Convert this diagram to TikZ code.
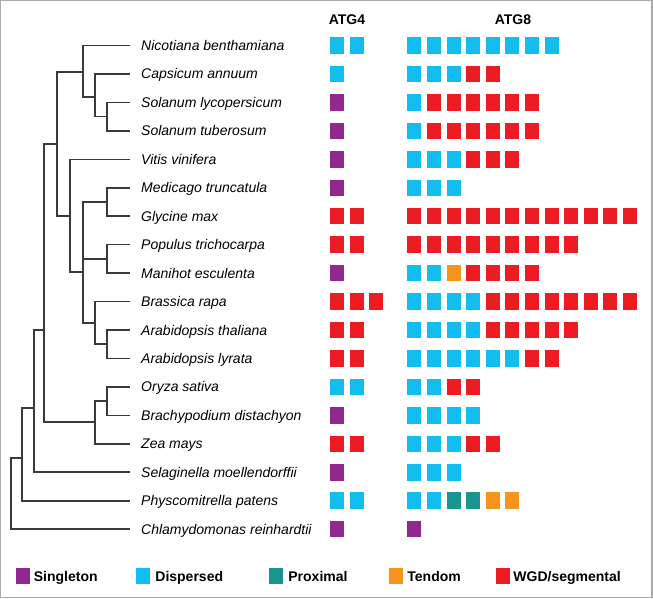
\documentclass[tikz,border=0pt]{standalone}
\usepackage{fontspec}
\setmainfont{Liberation Sans}
\usetikzlibrary{positioning}

\definecolor{cS}{HTML}{92278F}
\definecolor{cD}{HTML}{12BDF0}
\definecolor{cP}{HTML}{1A948F}
\definecolor{cT}{HTML}{F7941D}
\definecolor{cW}{HTML}{EC1C24}
\definecolor{branchgray}{HTML}{3A3A3A}
\definecolor{framegray}{HTML}{ABABAB}

% one row of gene boxes: name, first x, row y, list of kinds
\newcommand{\generow}[4]{%
  \foreach \kind [count=\i] in {#4} {\node[gene, fill=c\kind] (#1-\i) at ({#2+19.6*(\i-1)}, #3) {};}}

\begin{document}
\begin{tikzpicture}[
    x=1pt, y=-1pt,
    species/.style={anchor=west, inner xsep=11pt, inner ysep=0pt, text height=10pt, text depth=0pt, font=\fontsize{14}{16}\selectfont\itshape},
    branch/.style={draw=branchgray, line width=1.6pt},
    gene/.style={rectangle, minimum width=14pt, minimum height=16.5pt, inner sep=0pt},
    header/.style={inner sep=0pt, text height=10pt, text depth=0pt, font=\fontsize{14}{16}\selectfont\bfseries},
    legend/.style={anchor=west, inner sep=0pt, text height=10pt, text depth=0pt, font=\fontsize{14}{16}\selectfont\bfseries}
]
\useasboundingbox (0,0) rectangle (653,598);
\draw[framegray, line width=1.4pt] (0.7,0.7) rectangle (652,597.2);

% Species
\node[species] (nic) at (130, 45.5) {Nicotiana benthamiana};
\node[species] (cap) at (130, 73.95) {Capsicum annuum};
\node[species] (sly) at (130, 102.4) {Solanum lycopersicum};
\node[species] (stu) at (130, 130.85) {Solanum tuberosum};
\node[species] (vvi) at (130, 159.3) {Vitis vinifera};
\node[species] (mtr) at (130, 187.75) {Medicago truncatula};
\node[species] (gma) at (130, 216.2) {Glycine max};
\node[species] (ptr) at (130, 244.65) {Populus trichocarpa};
\node[species] (mes) at (130, 273.1) {Manihot esculenta};
\node[species] (bra) at (130, 301.55) {Brassica rapa};
\node[species] (ath) at (130, 330) {Arabidopsis thaliana};
\node[species] (aly) at (130, 358.45) {Arabidopsis lyrata};
\node[species] (osa) at (130, 386.9) {Oryza sativa};
\node[species] (bdi) at (130, 415.35) {Brachypodium distachyon};
\node[species] (zma) at (130, 443.8) {Zea mays};
\node[species] (smo) at (130, 472.25) {Selaginella moellendorffii};
\node[species] (ppa) at (130, 500.7) {Physcomitrella patens};
\node[species] (cre) at (130, 529.15) {Chlamydomonas reinhardtii};

% Tree nodes
\coordinate (root) at (11, 493.6);
\coordinate (land) at (22, 458);
\coordinate (vasc) at (34, 408);
\coordinate (angio) at (44, 330);
\coordinate (eudi) at (57, 144);
\coordinate (solan) at (83, 72);
\coordinate (capsi) at (95, 97);
\coordinate (solum) at (107, 116.6);
\coordinate (rosid) at (70, 216);
\coordinate (core) at (83, 272);
\coordinate (fab) at (107, 202);
\coordinate (mal) at (107, 258.9);
\coordinate (brass) at (95, 323);
\coordinate (arab) at (107, 344.2);
\coordinate (mono) at (95, 422);
\coordinate (pooid) at (107, 401.1);

% Branches
\draw[branch] (root) |- (land);
\draw[branch] (root) |- (cre.west);
\draw[branch] (land) |- (vasc);
\draw[branch] (land) |- (ppa.west);
\draw[branch] (vasc) |- (angio);
\draw[branch] (vasc) |- (smo.west);
\draw[branch] (angio) |- (eudi);
\draw[branch] (angio) |- (mono);
\draw[branch] (eudi) |- (solan);
\draw[branch] (eudi) |- (rosid);
\draw[branch] (solan) |- (nic.west);
\draw[branch] (solan) |- (capsi);
\draw[branch] (capsi) |- (cap.west);
\draw[branch] (capsi) |- (solum);
\draw[branch] (solum) |- (sly.west);
\draw[branch] (solum) |- (stu.west);
\draw[branch] (rosid) |- (vvi.west);
\draw[branch] (rosid) |- (core);
\draw[branch] (core) |- (fab);
\draw[branch] (core) |- (mal);
\draw[branch] (core) |- (brass);
\draw[branch] (fab) |- (mtr.west);
\draw[branch] (fab) |- (gma.west);
\draw[branch] (mal) |- (ptr.west);
\draw[branch] (mal) |- (mes.west);
\draw[branch] (brass) |- (bra.west);
\draw[branch] (brass) |- (arab);
\draw[branch] (arab) |- (ath.west);
\draw[branch] (arab) |- (aly.west);
\draw[branch] (mono) |- (pooid);
\draw[branch] (mono) |- (zma.west);
\draw[branch] (pooid) |- (osa.west);
\draw[branch] (pooid) |- (bdi.west);

% Headers
\node[header] (h4) at (347, 19.5) {ATG4};
\node[header] (h8) at (513, 19.5) {ATG8};

% Gene counts (ATG4, ATG8)
\generow{nic4}{337}{45.5}{D,D}
\generow{nic8}{414.3}{45.5}{D,D,D,D,D,D,D,D}
\generow{cap4}{337}{73.95}{D}
\generow{cap8}{414.3}{73.95}{D,D,D,W,W}
\generow{sly4}{337}{102.4}{S}
\generow{sly8}{414.3}{102.4}{D,W,W,W,W,W,W}
\generow{stu4}{337}{130.85}{S}
\generow{stu8}{414.3}{130.85}{D,W,W,W,W,W,W}
\generow{vvi4}{337}{159.3}{S}
\generow{vvi8}{414.3}{159.3}{D,D,D,W,W,W}
\generow{mtr4}{337}{187.75}{S}
\generow{mtr8}{414.3}{187.75}{D,D,D}
\generow{gma4}{337}{216.2}{W,W}
\generow{gma8}{414.3}{216.2}{W,W,W,W,W,W,W,W,W,W,W,W}
\generow{ptr4}{337}{244.65}{W,W}
\generow{ptr8}{414.3}{244.65}{W,W,W,W,W,W,W,W,W}
\generow{mes4}{337}{273.1}{S}
\generow{mes8}{414.3}{273.1}{D,D,T,W,W,W,W}
\generow{bra4}{337}{301.55}{W,W,W}
\generow{bra8}{414.3}{301.55}{D,D,D,D,W,W,W,W,W,W,W,W}
\generow{ath4}{337}{330}{W,W}
\generow{ath8}{414.3}{330}{D,D,D,D,W,W,W,W,W}
\generow{aly4}{337}{358.45}{W,W}
\generow{aly8}{414.3}{358.45}{D,D,D,D,D,D,W,W}
\generow{osa4}{337}{386.9}{D,D}
\generow{osa8}{414.3}{386.9}{D,D,W,W}
\generow{bdi4}{337}{415.35}{S}
\generow{bdi8}{414.3}{415.35}{D,D,D,D}
\generow{zma4}{337}{443.8}{W,W}
\generow{zma8}{414.3}{443.8}{D,D,D,W,W}
\generow{smo4}{337}{472.25}{S}
\generow{smo8}{414.3}{472.25}{D,D,D}
\generow{ppa4}{337}{500.7}{D,D}
\generow{ppa8}{414.3}{500.7}{D,D,P,P,T,T}
\generow{cre4}{337}{529.15}{S}
\generow{cre8}{414.3}{529.15}{S}

% Legend
\node[gene, fill=cS] (lgS) at (23, 576) {};
\node[gene, fill=cD] (lgD) at (143, 576) {};
\node[gene, fill=cP] (lgP) at (276.3, 576) {};
\node[gene, fill=cT] (lgT) at (395.5, 576) {};
\node[gene, fill=cW] (lgW) at (503, 576) {};
\node[legend, right=3.5pt of lgS] (lgStxt) {Singleton};
\node[legend, right=5pt of lgD] (lgDtxt) {Dispersed};
\node[legend, right=4.7pt of lgP] (lgPtxt) {Proximal};
\node[legend, right=4.5pt of lgT] (lgTtxt) {Tendom};
\node[legend, right=3pt of lgW] (lgWtxt) {WGD/segmental};

\end{tikzpicture}
\end{document}
